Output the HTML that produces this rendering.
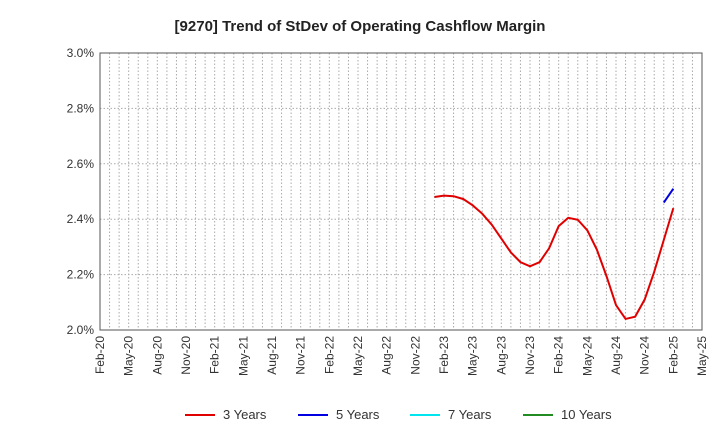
<!DOCTYPE html>
<html><head><meta charset="utf-8"><style>
body{margin:0;background:#fff;font-family:"Liberation Sans",sans-serif;}
svg text{font-family:"Liberation Sans",sans-serif;}
</style></head><body>
<svg id="chart" width="720" height="440" xmlns="http://www.w3.org/2000/svg">
<text x="360" y="31" text-anchor="middle" font-size="15" font-weight="bold" fill="#222">[9270]  Trend of StDev of Operating Cashflow Margin</text>
<g id="grid"></g>
<g id="axes"></g>
<g id="series"></g>
<g id="legend"></g>
</svg>
<script>
const yTicks=[2.0,2.2,2.4,2.6,2.8,3.0];
const yTickLabels=["2.0%","2.2%","2.4%","2.6%","2.8%","3.0%"];
const xTickLabels=["Feb-20","May-20","Aug-20","Nov-20","Feb-21","May-21","Aug-21","Nov-21","Feb-22","May-22","Aug-22","Nov-22","Feb-23","May-23","Aug-23","Nov-23","Feb-24","May-24","Aug-24","Nov-24","Feb-25","May-25"];
const red3Start=35;
const red3=[2.48,2.485,2.483,2.473,2.45,2.42,2.38,2.33,2.28,2.245,2.23,2.245,2.295,2.375,2.405,2.398,2.36,2.29,2.195,2.09,2.04,2.048,2.11,2.21,2.325,2.44];
const blue5Start=59;
const blue5=[2.46,2.51];
const NS="http://www.w3.org/2000/svg";
const L=100,R=702,T=53,B=330,months=63;
const xs=m=>L+m*(R-L)/months;
const ys=v=>B-(v-2.0)/1.0*(B-T);
function mk(tag,attrs,parent){const e=document.createElementNS(NS,tag);for(const k in attrs)e.setAttribute(k,attrs[k]);parent.appendChild(e);return e;}
const grid=document.getElementById('grid'),axes=document.getElementById('axes'),series=document.getElementById('series'),legend=document.getElementById('legend');
for(let m=0;m<=months;m++){const l=mk('line',{x1:xs(m),x2:xs(m),y1:T,y2:B,stroke:'#aaa','stroke-dasharray':'1.5,2','stroke-width':1},grid);
}
yTicks.forEach((v,i)=>{const l=mk('line',{x1:L,x2:R,y1:ys(v),y2:ys(v),stroke:'#aaa','stroke-dasharray':'1.5,2'},grid);

const t=mk('text',{x:L-6,y:ys(v)+4,'text-anchor':'end','font-size':12,fill:'#333'},axes);t.textContent=yTickLabels[i];
});
const fr=mk('rect',{x:L,y:T,width:R-L,height:B-T,fill:'none',stroke:'#555'},axes);

xTickLabels.forEach((s,i)=>{const x=xs(i*3);const t=mk('text',{transform:`translate(${x+4},${B+6}) rotate(-90)`,'text-anchor':'end','font-size':12,fill:'#333'},axes);t.textContent=s;
});
function line(vals,start,color,name){const p=mk('polyline',{points:vals.map((v,i)=>xs(start+i)+','+ys(v)).join(' '),fill:'none',stroke:color,'stroke-width':2},series);
}
line(red3,red3Start,'#e00000','line-3-years');
line(blue5,blue5Start,'#0000e0','line-5-years');
const leg=[["3 Years","#e00000",185],["5 Years","#0000e0",298],["7 Years","#00e5ee",410],["10 Years","#228b22",523]];
leg.forEach(([n,c,x])=>{const g=mk('g',{},legend);
mk('line',{x1:x,x2:x+30,y1:415,y2:415,stroke:c,'stroke-width':2},g);
const t=mk('text',{x:x+38,y:419,'font-size':13,fill:'#333'},g);t.textContent=n;});
</script>
</body></html>
